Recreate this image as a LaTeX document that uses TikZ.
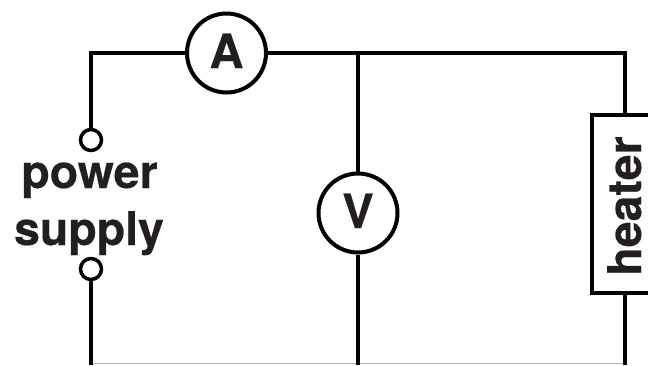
\documentclass[tikz,border=0pt]{standalone}
\usepackage{fontspec}
\setmainfont{TeX Gyre Heros}[BoldFeatures={FakeBold=0.4}]
\usetikzlibrary{calc}
\definecolor{ink}{HTML}{231F20}
\tikzset{
  wire/.style={line width=4pt,black},
  meter/.style={circle,draw=black,line width=4pt,fill=white,minimum size=79pt,inner sep=0pt,text=ink,text height=35pt,text depth=5pt,font=\bfseries\fontsize{47}{47}\selectfont},
  terminal/.style={circle,draw=black,line width=3.5pt,fill=white,minimum size=21pt,inner sep=0pt},
  label/.style={text=ink,font=\bfseries\fontsize{46.5}{52}\selectfont,inner sep=0pt,anchor=base},
  loadbox/.style={draw=black,line width=4pt,fill=white,minimum width=66pt,minimum height=178pt,inner sep=0pt}
}
\begin{document}
\begin{tikzpicture}[x=1pt,y=-1pt]
\useasboundingbox (0,0) rectangle (648,365);
\coordinate (tl) at (91,53);
\coordinate (tm) at (358,53);
\coordinate (tr) at (625,53);
\coordinate (bl) at (91,365);
\coordinate (bm) at (358,365);
\coordinate (br) at (625,365);
\draw[gray!60,line width=1pt] ($(bl)+(0,-1.2)$) -- ($(br)+(0,-1.2)$);
\draw[wire,line cap=rect] (tl) -- (tr);
\node[terminal] (t1) at (91,140) {};
\node[terminal] (t2) at (91,269) {};
\node[meter] (A) at (226.5,53) {A};
\node[meter] (V) at (358,213) {V};
\node[loadbox] (heater) at (625,204) {};
\draw[wire,line cap=rect] (t1) -- (tl);
\draw[wire] (t2) -- (bl);
\draw[wire] (tm) -- (V);
\draw[wire] (V) -- (bm);
\draw[wire] (tr) -- (heater);
\draw[wire] (heater) -- (br);
\node[label] (pw) at (89.5,188) {power};
\node[label] (sp) at (89,245) {supply};
\node[label,rotate=90] (hl) at (641,206) {heater};
\end{tikzpicture}
\end{document}
